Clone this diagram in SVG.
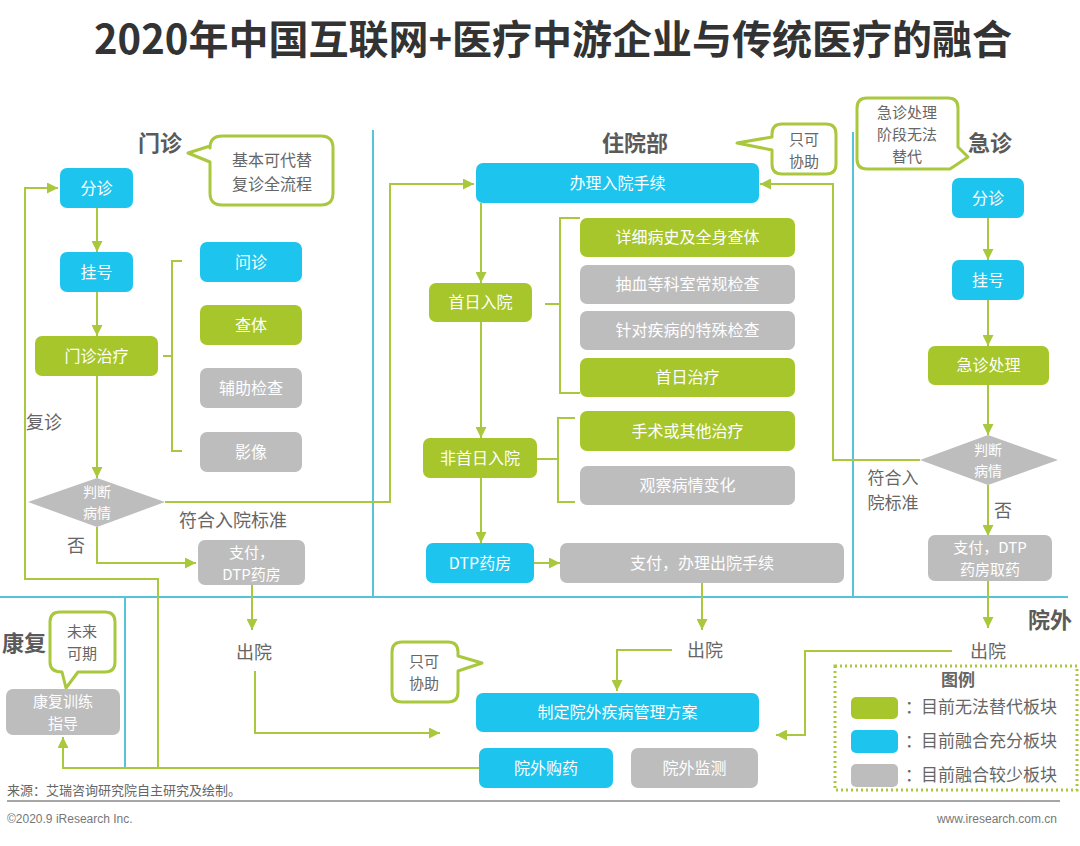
<svg xmlns="http://www.w3.org/2000/svg" width="1080" height="846" viewBox="0 0 1080 846">
<style>
text{font-family:"Noto Sans CJK SC","Liberation Sans",sans-serif;}
.title{font-size:40px;font-weight:bold;fill:#333;text-anchor:middle;}
.sec{font-size:22px;font-weight:bold;fill:#5a5a5a;text-anchor:middle;}
.lbl{font-size:18px;fill:#666;text-anchor:middle;}
.btxt{font-size:16px;fill:#fff;text-anchor:middle;}
.b2{font-size:15px;fill:#fff;text-anchor:middle;}
.ctxt{font-size:15px;fill:#666;text-anchor:middle;}
.blue{fill:#1DC4EE;}
.green{fill:#A6C62C;}
.gray{fill:#BDBDBD;}
.div{stroke:#55C3DA;stroke-width:2;fill:none;}
.con{stroke:#A9C83D;stroke-width:2;fill:none;}
.arr{marker-end:url(#ah);}
.bub{fill:#fff;stroke:#A9C83D;stroke-width:3;stroke-linejoin:round;}
.leg{font-size:17px;fill:#666;}
.foot{font-size:12px;fill:#777;font-family:"Liberation Sans",Arial,sans-serif;}
</style>
<defs>
<marker id="ah" viewBox="0 0 10 10" refX="10" refY="5" markerWidth="11" markerHeight="11" markerUnits="userSpaceOnUse" orient="auto">
<path d="M0,0 L10,5 L0,10 z" fill="#A9C83D"/>
</marker>
</defs>
<rect width="1080" height="846" fill="#fff"/>
<text class="title" x="553" y="54">2020年中国互联网+医疗中游企业与传统医疗的融合</text>

<g id="dividers">
<path class="div" d="M373,130 V597"/>
<path class="div" d="M853,132 V597"/>
<path class="div" d="M0,597 H1068"/>
<path class="div" d="M125,597 V768"/>
</g>

<g id="connectors">
<path class="con arr" d="M97,208 V252"/>
<path class="con arr" d="M97,292 V336"/>
<path class="con arr" d="M97,376 V478"/>
<path class="con" d="M182,261 H172 V451 H182 M163,356 H172"/>
<path class="con arr" d="M165,502 H390 V184 H474"/>
<path class="con arr" d="M97,527 V563 H196"/>
<path class="con arr" d="M252,585 V630"/>
<path class="con arr" d="M255,671 V733 H440"/>
<path class="con arr" d="M479,768 H63 V737"/>
<path class="con arr" d="M158,768 V579 H25 V188 H58"/>
<path class="con arr" d="M481,203 V283"/>
<path class="con arr" d="M481,322 V438"/>
<path class="con arr" d="M481,478 V543"/>
<path class="con arr" d="M534,563 H560"/>
<path class="con" d="M580,218 H560 V393 H580 M545,304 H560"/>
<path class="con" d="M575,418 H558 V502 H575 M537,459 H558"/>
<path class="con arr" d="M702,583 V630"/>
<path class="con arr" d="M672,650 H617 V691"/>
<path class="con arr" d="M988,218 V260"/>
<path class="con arr" d="M988,300 V346"/>
<path class="con arr" d="M988,385 V435"/>
<path class="con arr" d="M988,485 V536"/>
<path class="con arr" d="M988,581 V628"/>
<path class="con arr" d="M920,460 H833 V184 H760"/>
<path class="con arr" d="M952,651 H805 V735 H776"/>
</g>

<g id="labels">
<text class="sec" x="160" y="151">门诊</text>
<text class="sec" x="635" y="151">住院部</text>
<text class="sec" x="990" y="151">急诊</text>
<text class="sec" x="24" y="651">康复</text>
<text class="sec" x="1050" y="628">院外</text>
<text class="lbl" x="44" y="429">复诊</text>
<text class="lbl" x="233" y="527">符合入院标准</text>
<text class="lbl" x="76" y="552">否</text>
<text class="lbl" x="1003" y="517">否</text>
<text class="lbl" x="893" y="484" style="font-size:17px">符合入</text>
<text class="lbl" x="893" y="509" style="font-size:17px">院标准</text>
<text class="lbl" x="254" y="659">出院</text>
<text class="lbl" x="705" y="657">出院</text>
<text class="lbl" x="988" y="658">出院</text>
</g>

<g id="bubble-mz">
<path class="bub" d="M222,136 H321 Q333,136 333,148 V193 Q333,205 321,205 H222 Q210,205 210,193 V162 L188,153 L210,146 V148 Q210,136 222,136 Z"/>
<text class="ctxt" x="272" y="166" style="font-size:16px">基本可代替</text>
<text class="ctxt" x="272" y="190" style="font-size:16px">复诊全流程</text>
</g>
<g id="bubble-zy">
<path class="bub" d="M782,124 H826 Q836,124 836,134 V164 Q836,174 826,174 H782 Q772,174 772,164 V150 L737,143 L772,137 V134 Q772,124 782,124 Z"/>
<text class="ctxt" x="804" y="145">只可</text>
<text class="ctxt" x="804" y="167">协助</text>
</g>
<g id="bubble-jz">
<path class="bub" d="M867,98 H948 Q958,98 958,108 V147 L968,157 L950,169 H867 Q857,169 857,159 V108 Q857,98 867,98 Z"/>
<text class="ctxt" x="907" y="118">急诊处理</text>
<text class="ctxt" x="907" y="140">阶段无法</text>
<text class="ctxt" x="907" y="162">替代</text>
</g>
<g id="bubble-kf">
<path class="bub" d="M60,612 H105 Q115,612 115,622 V662 Q115,672 105,672 H78 L66,688 L62,672 Q50,672 50,662 V622 Q50,612 60,612 Z"/>
<text class="ctxt" x="82" y="637">未来</text>
<text class="ctxt" x="82" y="659">可期</text>
</g>
<g id="bubble-yw">
<path class="bub" d="M402,642 H448 Q458,642 458,652 V656 L482,663 L458,671 V692 Q458,702 448,702 H402 Q392,702 392,692 V652 Q392,642 402,642 Z"/>
<text class="ctxt" x="424" y="667">只可</text>
<text class="ctxt" x="424" y="689">协助</text>
</g>

<g id="mz-fenzhen"><rect class="blue" x="60" y="168" width="73" height="40" rx="7"/><text class="btxt" x="96.5" y="194">分诊</text></g>
<g id="mz-guahao"><rect class="blue" x="60" y="252" width="73" height="40" rx="7"/><text class="btxt" x="96.5" y="278">挂号</text></g>
<g id="mz-zhiliao"><rect class="green" x="35" y="336" width="123" height="40" rx="7"/><text class="btxt" x="96.5" y="362">门诊治疗</text></g>
<g id="mz-wenzhen"><rect class="blue" x="200" y="242" width="102" height="40" rx="7"/><text class="btxt" x="251" y="268">问诊</text></g>
<g id="mz-chati"><rect class="green" x="200" y="305" width="102" height="40" rx="7"/><text class="btxt" x="251" y="331">查体</text></g>
<g id="mz-fuzhu"><rect class="gray" x="200" y="368" width="102" height="40" rx="7"/><text class="btxt" x="251" y="394">辅助检查</text></g>
<g id="mz-yingxiang"><rect class="gray" x="200" y="432" width="102" height="40" rx="7"/><text class="btxt" x="251" y="458">影像</text></g>
<g id="mz-panduan"><path class="gray" d="M28,502 L97,478 L165,502 L97,527 Z"/><text class="b2" x="97" y="497" style="font-size:14px">判断</text><text class="b2" x="97" y="518" style="font-size:14px">病情</text></g>
<g id="mz-zhifu"><rect class="gray" x="198" y="540" width="107" height="45" rx="7"/><text class="b2" x="251.5" y="558">支付，</text><text class="b2" x="251.5" y="580">DTP药房</text></g>

<g id="zy-banli"><rect class="blue" x="476" y="163" width="283" height="40" rx="7"/><text class="btxt" x="617.5" y="189">办理入院手续</text></g>
<g id="zy-shouri"><rect class="green" x="429" y="283" width="103" height="39" rx="7"/><text class="btxt" x="480.5" y="308">首日入院</text></g>
<g id="zy-xiangxi"><rect class="green" x="580" y="218" width="215" height="39" rx="7"/><text class="btxt" x="687.5" y="243">详细病史及全身查体</text></g>
<g id="zy-chouxue"><rect class="gray" x="580" y="265" width="215" height="39" rx="7"/><text class="btxt" x="687.5" y="290">抽血等科室常规检查</text></g>
<g id="zy-teshu"><rect class="gray" x="580" y="311" width="215" height="39" rx="7"/><text class="btxt" x="687.5" y="336">针对疾病的特殊检查</text></g>
<g id="zy-shourizl"><rect class="green" x="580" y="358" width="215" height="39" rx="7"/><text class="btxt" x="687.5" y="383">首日治疗</text></g>
<g id="zy-feishouri"><rect class="green" x="423" y="438" width="114" height="40" rx="7"/><text class="btxt" x="480" y="464">非首日入院</text></g>
<g id="zy-shoushu"><rect class="green" x="580" y="411" width="215" height="40" rx="7"/><text class="btxt" x="687.5" y="437">手术或其他治疗</text></g>
<g id="zy-guancha"><rect class="gray" x="580" y="466" width="215" height="39" rx="7"/><text class="btxt" x="687.5" y="491">观察病情变化</text></g>
<g id="zy-dtp"><rect class="blue" x="426" y="543" width="108" height="40" rx="7"/><text class="btxt" x="480" y="569">DTP药房</text></g>
<g id="zy-zhifu"><rect class="gray" x="560" y="543" width="284" height="40" rx="7"/><text class="btxt" x="702" y="569">支付，办理出院手续</text></g>

<g id="jz-fenzhen"><rect class="blue" x="952" y="178" width="72" height="40" rx="7"/><text class="btxt" x="988" y="204">分诊</text></g>
<g id="jz-guahao"><rect class="blue" x="952" y="260" width="72" height="40" rx="7"/><text class="btxt" x="988" y="286">挂号</text></g>
<g id="jz-chuli"><rect class="green" x="928" y="346" width="121" height="39" rx="7"/><text class="btxt" x="988.5" y="371">急诊处理</text></g>
<g id="jz-panduan"><path class="gray" d="M920,460 L988,435 L1058,460 L988,485 Z"/><text class="b2" x="988" y="455" style="font-size:14px">判断</text><text class="b2" x="988" y="476" style="font-size:14px">病情</text></g>
<g id="jz-zhifu"><rect class="gray" x="928" y="535" width="124" height="46" rx="7"/><text class="b2" x="990" y="553">支付，DTP</text><text class="b2" x="990" y="575">药房取药</text></g>

<g id="kf-xunlian"><rect class="gray" x="6" y="689" width="114" height="46" rx="7"/><text class="b2" x="63" y="707">康复训练</text><text class="b2" x="63" y="729">指导</text></g>
<g id="yw-zhiding"><rect class="blue" x="476" y="693" width="283" height="39" rx="7"/><text class="btxt" x="617.5" y="718">制定院外疾病管理方案</text></g>
<g id="yw-gouyao"><rect class="blue" x="479" y="748" width="134" height="40" rx="7"/><text class="btxt" x="546" y="774">院外购药</text></g>
<g id="yw-jiance"><rect class="gray" x="631" y="748" width="127" height="40" rx="7"/><text class="btxt" x="694.5" y="774">院外监测</text></g>

<g id="legend">
<rect x="835" y="666" width="242" height="124" fill="none" stroke="#A9C83D" stroke-width="3" stroke-dasharray="2 3"/>
<text x="958" y="686" style="font-size:17px;font-weight:bold;fill:#666;text-anchor:middle">图例</text>
<rect class="green" x="851" y="697" width="47" height="22" rx="5"/>
<rect class="blue" x="851" y="730" width="47" height="23" rx="5"/>
<rect class="gray" x="851" y="764" width="47" height="23" rx="5"/>
<text class="leg" x="905" y="713">：</text><text class="leg" x="921" y="713">目前无法替代板块</text>
<text class="leg" x="905" y="747">：</text><text class="leg" x="921" y="747">目前融合充分板块</text>
<text class="leg" x="905" y="781">：</text><text class="leg" x="921" y="781">目前融合较少板块</text>
</g>

<g id="footer">
<text x="7" y="795" style="font-size:13px;fill:#666">来源：艾瑞咨询研究院自主研究及绘制。</text>
<path d="M7,801 H1060" stroke="#888" stroke-width="1.5"/>
<text class="foot" x="7" y="823">©2020.9 iResearch Inc.</text>
<text class="foot" x="1057" y="823" text-anchor="end">www.iresearch.com.cn</text>
</g>
</svg>
